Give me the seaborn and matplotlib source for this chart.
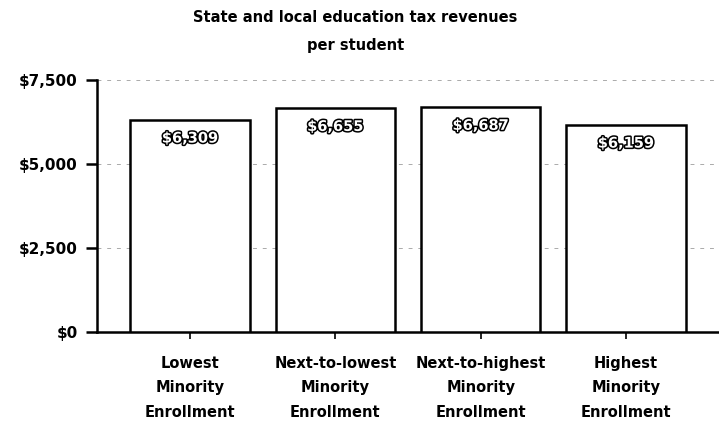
import matplotlib
matplotlib.use("Agg")
import matplotlib.pyplot as plt
import matplotlib.patheffects as pe
import seaborn as sns
import pandas as pd

categories = ["Lowest\nMinority\nEnrollment", "Next-to-lowest\nMinority\nEnrollment",
              "Next-to-highest\nMinority\nEnrollment", "Highest\nMinority\nEnrollment"]
values = [6309, 6655, 6687, 6159]
yticks = [0, 2500, 5000, 7500]
ytick_labels = ["$0", "$2,500", "$5,000", "$7,500"]
title = "State and local education tax revenues\nper student"

sns.set_style("white")
plt.rcParams['font.family'] = ['DejaVu Sans']
plt.rcParams['text.color'] = 'black'
plt.rcParams['xtick.color'] = 'black'
plt.rcParams['ytick.color'] = 'black'

df = pd.DataFrame({"cat": categories, "val": values})
fig = plt.figure(figsize=(7.19, 4.23), dpi=100)
ax = fig.add_axes([0.135, 0.215, 0.863, 0.596])
sns.barplot(data=df, x="cat", y="val", color="white", edgecolor="black",
            linewidth=1.8, width=0.82, ax=ax, zorder=3)
ax.set_ylim(0, 7500)
ax.set_xlim(-0.64, 3.63)
ax.set_yticks(yticks)
ax.set_yticklabels(ytick_labels, fontsize=11, fontweight="bold")
ax.set_xticklabels(categories, fontsize=10.5, linespacing=1.8, fontweight="semibold")
ax.set_xlabel("")
ax.set_ylabel("")
for y in yticks[1:]:
    ax.axhline(y, color="#aaaaaa", linestyle=(0, (4, 6)), linewidth=0.7, zorder=1)
for s in ["top", "right"]:
    ax.spines[s].set_visible(False)
for s in ["left", "bottom"]:
    ax.spines[s].set_color("black")
    ax.spines[s].set_linewidth(1.8)
ax.tick_params(axis="y", direction="out", length=8, width=1.8, pad=6, left=True)
ax.tick_params(axis="x", direction="out", length=5, width=1.2, pad=12, bottom=True)
for i, v in enumerate(values):
    ax.annotate(f"${v:,}", (i, v), xytext=(0, -13), textcoords="offset points",
                ha="center", va="center", fontsize=10.5, fontweight="bold", color="white",
                path_effects=[pe.withStroke(linewidth=2.2, foreground="black")], zorder=5)
fig.text(0.494, 0.925, title, ha="center", va="center", fontsize=10.5,
         fontweight="semibold", linespacing=2.1)
fig.savefig("out.png", dpi=100)
